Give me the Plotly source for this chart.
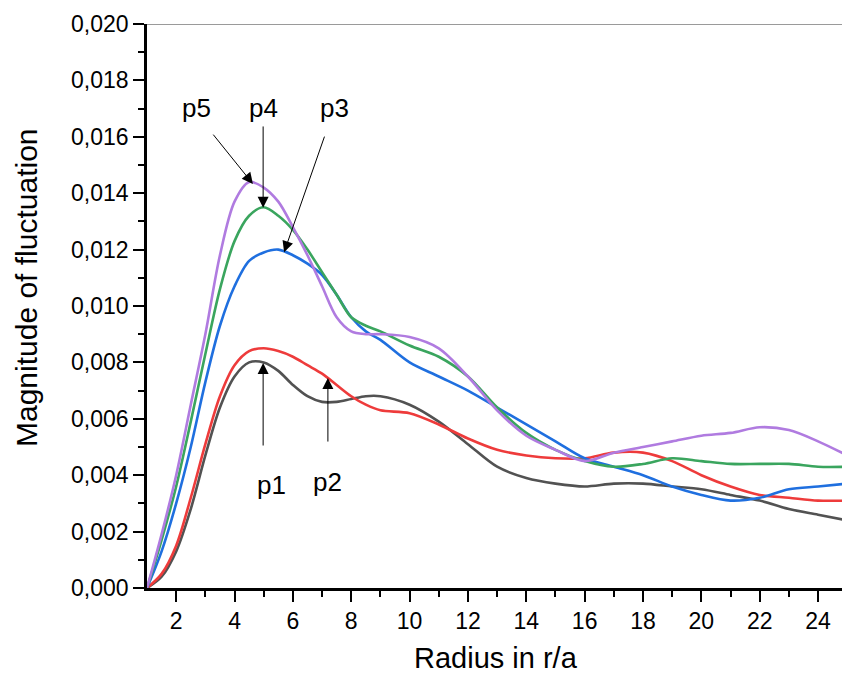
import plotly.graph_objects as go

radius = [1, 1.5, 2, 2.5, 3, 3.5, 4, 4.5, 5, 5.5, 6, 6.5, 7, 7.5, 8, 8.5, 9, 10, 11, 12, 13,
          14, 15, 16, 17, 18, 19, 20, 21, 22, 23, 24, 25]

p1 = [0, 0.0004, 0.0013, 0.0028, 0.0047, 0.0064, 0.0075, 0.0080, 0.0080, 0.0077, 0.0072, 0.0068,
      0.0066, 0.0066, 0.0067, 0.0068, 0.0068, 0.0065, 0.0059, 0.0051, 0.0043,
      0.0039, 0.0037, 0.0036, 0.0037, 0.0037, 0.0036, 0.0035, 0.0033, 0.0031, 0.0028, 0.0026, 0.0024]
p2 = [0, 0.0005, 0.0015, 0.0032, 0.0051, 0.0068, 0.0079, 0.0084, 0.0085, 0.0084, 0.0082, 0.0079,
      0.0076, 0.0072, 0.0068, 0.0065, 0.0063, 0.0062, 0.0058, 0.0053, 0.0049,
      0.0047, 0.0046, 0.0046, 0.0048, 0.0048, 0.0045, 0.0040, 0.0036, 0.0033, 0.0032, 0.0031, 0.0031]
p3 = [0, 0.0013, 0.0030, 0.0050, 0.0073, 0.0093, 0.0107, 0.0116, 0.0119, 0.0120, 0.0118, 0.0115,
      0.0111, 0.0104, 0.0096, 0.0091, 0.0088, 0.0080, 0.0075, 0.0070, 0.0064,
      0.0058, 0.0052, 0.0046, 0.0043, 0.0040, 0.0036, 0.0033, 0.0031, 0.0032, 0.0035, 0.0036, 0.0037]
p4 = [0, 0.0017, 0.0036, 0.0059, 0.0083, 0.0106, 0.0123, 0.0132, 0.0135, 0.0132, 0.0127, 0.0120,
      0.0112, 0.0104, 0.0096, 0.0093, 0.0091, 0.0086, 0.0082, 0.0075, 0.0064,
      0.0055, 0.0049, 0.0045, 0.0043, 0.0044, 0.0046, 0.0045, 0.0044, 0.0044, 0.0044, 0.0043, 0.0043]
p5 = [0, 0.0019, 0.0040, 0.0065, 0.0090, 0.0118, 0.0137, 0.0144, 0.0142, 0.0137, 0.0128, 0.0118,
      0.0107, 0.0096, 0.0091, 0.0090, 0.0090, 0.0089, 0.0085, 0.0075, 0.0063,
      0.0054, 0.0049, 0.0045, 0.0048, 0.0050, 0.0052, 0.0054, 0.0055, 0.0057, 0.0056, 0.0052, 0.0047]

series_names = ["p1", "p2", "p3", "p4", "p5"]
series_vals = [p1, p2, p3, p4, p5]
colors = ["#525252", "#EE3B3B", "#1F6FDF", "#3AA55E", "#B07BE0"]

# label annotations: (text, text x, text y, tail x, tail y, head x, head y)
labels = [
    ("p5", 2.71, 0.01702, 3.23, 0.01613, 4.63, 0.01433),
    ("p4", 4.98, 0.01702, 4.98, 0.01642, 4.98, 0.01348),
    ("p3", 7.44, 0.01702, 7.10, 0.01606, 5.70, 0.01191),
    ("p1", 5.25, 0.00365, 4.98, 0.00500, 4.98, 0.00798),
    ("p2", 7.20, 0.00376, 7.20, 0.00514, 7.20, 0.00745),
]

FONT = "Liberation Sans, Arial, sans-serif"

fig = go.Figure()
for name, vals, col in zip(series_names, series_vals, colors):
    fig.add_trace(go.Scatter(x=radius, y=vals, mode="lines", name=name,
                             line=dict(color=col, width=2.6, shape="spline", smoothing=0.9),
                             showlegend=False))

for text, tx, ty, ax, ay, hx, hy in labels:
    fig.add_annotation(x=hx, y=hy, ax=ax, ay=ay, xref="x", yref="y", axref="x", ayref="y",
                       text="", showarrow=True, arrowhead=2, arrowsize=2.2, arrowwidth=1.0,
                       arrowcolor="black", standoff=0)
    fig.add_annotation(x=tx, y=ty, xref="x", yref="y", text=text, showarrow=False,
                       xanchor="center", yanchor="middle",
                       font=dict(family=FONT, size=26, color="black"))

# axis titles
fig.add_annotation(x=(496 - 147) / 695, y=(588 - 658) / 564, xref="paper", yref="paper",
                   xanchor="center", yanchor="middle",
                   text="Radius in r/a", showarrow=False,
                   font=dict(family=FONT, size=29, color="black"))
fig.add_annotation(x=(26 - 147) / 695, y=(588 - 288) / 564, xref="paper", yref="paper",
                   xanchor="center", yanchor="middle",
                   text="Magnitude of fluctuation", showarrow=False, textangle=-90,
                   font=dict(family=FONT, size=30, color="black"))

# top frame line
fig.add_shape(type="line", xref="paper", yref="y", x0=0, x1=1, y0=0.020, y1=0.020,
              line=dict(color="#9a9a9a", width=2))

fig.update_layout(
    width=842, height=678,
    margin=dict(l=147, r=0, t=24, b=90),
    paper_bgcolor="white", plot_bgcolor="white",
    separators=",.",
    font=dict(family=FONT, size=23, color="black"),
    xaxis=dict(range=[1, 24.82], tickmode="array", tickvals=list(range(2, 25, 2)),
               ticks="outside", ticklen=11, tickwidth=2, tickcolor="black",
               minor=dict(tickvals=list(range(3, 25, 2)), ticks="outside", ticklen=6,
                          tickwidth=2, tickcolor="black"),
               showline=True, linecolor="black", linewidth=2.5, showgrid=False,
               zeroline=False, tickfont=dict(size=23)),
    yaxis=dict(range=[0, 0.020], tickmode="array",
               tickvals=[i * 0.002 for i in range(11)],
               tickformat=".3f", ticks="outside", ticklen=11, tickwidth=2, tickcolor="black",
               minor=dict(tickvals=[0.001 + i * 0.002 for i in range(10)], ticks="outside",
                          ticklen=6, tickwidth=2, tickcolor="black"),
               showline=True, linecolor="black", linewidth=2.5, showgrid=False,
               zeroline=False, tickfont=dict(size=23)),
)

fig.write_html("out.html")
